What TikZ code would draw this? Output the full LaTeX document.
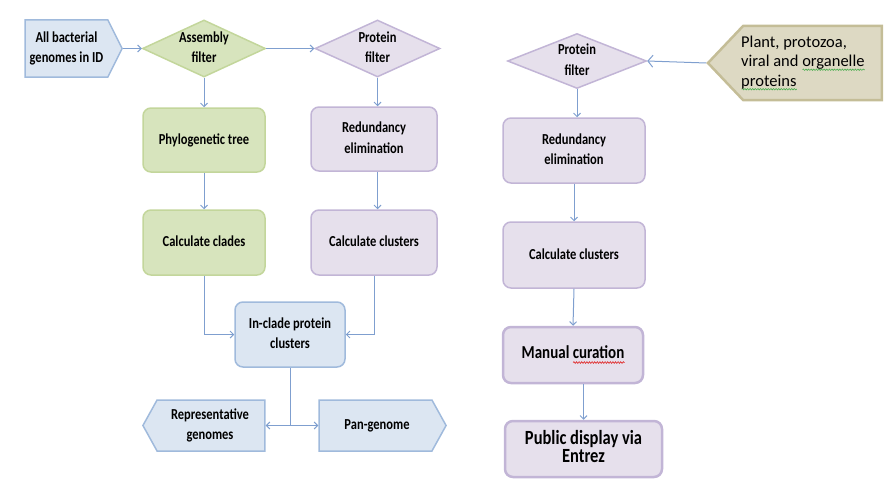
\documentclass[tikz,border=0pt]{standalone}
\usepackage{fontspec}
\usepackage{graphicx}
\setmainfont{Carlito}
\usetikzlibrary{shapes.geometric,shapes.symbols,arrows.meta,decorations.pathmorphing}
\definecolor{bfill}{HTML}{DCE6F2}
\definecolor{bdraw}{HTML}{A0BADC}
\definecolor{gfill}{HTML}{D7E4BD}
\definecolor{gdraw}{HTML}{C3D69B}
\definecolor{pfill}{HTML}{E6E0EC}
\definecolor{pdraw}{HTML}{C2B5D6}
\definecolor{tfill}{HTML}{DDD9C3}
\definecolor{tdraw}{HTML}{C4BD97}
\definecolor{arr}{HTML}{7F9FCF}
\definecolor{wgreen}{HTML}{4CB050}
\definecolor{wred}{HTML}{E03030}
\newsavebox\wavbox
\newcommand\wav[2]{\sbox\wavbox{#2}\rlap{\tikz[baseline=0pt,x=1pt,y=1pt]\draw[draw=#1,fill=none,sharp corners,line width=0.6pt,decorate,decoration={snake,amplitude=0.7pt,segment length=2.6pt}] (0,-3) -- (\the\wd\wavbox,-3);}\usebox\wavbox}
\newcommand\stt[1]{\scalebox{1}[1.22]{\begin{tabular}{@{}c@{}}#1\end{tabular}}}
\tikzset{
  base/.style={line width=1.5pt, align=center, inner sep=1pt,
    font=\fontsize{12.5}{16.4}\selectfont\bfseries},
  rbox/.style={base, rectangle, rounded corners=8pt},
  dia/.style={base, diamond, inner sep=0pt},
  txt/.style={inner sep=0pt, font=\fontsize{12.5}{16.4}\selectfont\bfseries},
  sig/.style={base, signal, signal from=nowhere},
  blue/.style={fill=bfill, draw=bdraw},
  green/.style={fill=gfill, draw=gdraw},
  purple/.style={fill=pfill, draw=pdraw},
  tan/.style={fill=tfill, draw=tdraw},
  conn/.style={draw=arr, line width=1pt, -{Straight Barb[length=3.5pt,width=7pt]}},
  plainconn/.style={draw=arr, line width=1pt},
}
\begin{document}
\begin{tikzpicture}[x=1pt,y=-1pt]
\useasboundingbox (0,0) rectangle (890,487);
% left part
\node[sig, blue, signal to=east, signal pointer angle=127, minimum width=97, minimum height=57] (allb) at (66.5,48.5) {};
\node[txt] (allbT) at (66.5,48.5) {\stt{All bacterial\\genomes in ID}};
\node[dia, green, minimum width=123, minimum height=57] (asm) at (204,48.5) {};
\node[txt] (asmT) at (204,48.5) {\stt{Assembly\\filter}};
\node[dia, purple, minimum width=125, minimum height=57] (pf1) at (377.5,48.5) {};
\node[txt] (pf1T) at (377.5,48.5) {\stt{Protein\\filter}};
\node[rbox, green, minimum width=122, minimum height=64] (phylo) at (204,140) {\stt{Phylogenetic tree}};
\node[rbox, green, minimum width=122, minimum height=65] (clades) at (204,242.5) {\stt{Calculate clades}};
\node[rbox, purple, minimum width=126, minimum height=64] (red1) at (374,139) {\stt{Redundancy\\elimination}};
\node[rbox, purple, minimum width=126, minimum height=65] (clus1) at (374,242.5) {\stt{Calculate clusters}};
\node[rbox, blue, minimum width=110, minimum height=65] (inclade) at (290,334.5) {\stt{In-clade protein\\clusters}};
\node[sig, blue, signal to=west, signal pointer angle=122, minimum width=122, minimum height=51] (rep) at (211,425.5) {};
\node[txt] (repT) at (210,425.5) {\stt{Representative\\genomes}};
\node[sig, blue, signal to=east, signal pointer angle=122, minimum width=127, minimum height=51] (pan) at (375.5,425.5) {};
\node[txt] (panT) at (377,425.5) {\stt{Pan-genome}};
\coordinate (split) at (290,425.5);
% right part
\node[dia, purple, minimum width=139, minimum height=55] (pf2) at (577,61) {};
\node[txt] (pf2T) at (577,61) {\stt{Protein\\filter}};
\node[sig, tan, line width=2.5pt, signal to=west, signal pointer angle=93, minimum width=174, minimum height=74] (plant) at (812.5,63) {};
\node[inner sep=0pt, align=left, anchor=west, font=\fontsize{16.5}{19.5}\selectfont] (plantT) at (741,63) {Plant, protozoa,\\viral and \wav{wgreen}{organelle}\\\wav{wgreen}{proteins}};
\node[rbox, purple, minimum width=142, minimum height=65] (red2) at (574,150.5) {\stt{Redundancy\\elimination}};
\node[rbox, purple, minimum width=142, minimum height=66] (clus2) at (574,255) {\stt{Calculate clusters}};
\node[rbox, purple, line width=2.5pt, minimum width=140, minimum height=56] (man) at (573,355) {};
\node[txt, font=\fontsize{15}{14}\selectfont\bfseries] (manT) at (573,355) {\stt{Manual \wav{wred}{curation}}};
\node[rbox, purple, line width=2.5pt, minimum width=157, minimum height=56, font=\fontsize{16.5}{14}\selectfont\bfseries] (pub) at (583.5,449) {\stt{Public display via\\Entrez}};
% connectors
\draw[conn] (allb.east) -- (asm.west);
\draw[conn] (asm.east) -- (pf1.west);
\draw[conn] (asm.south) -- (phylo.north);
\draw[conn] (phylo) -- (clades);
\draw[conn] (pf1.south) -- (pf1.south |- red1.north);
\draw[conn] (red1.south -| pf1.south) -- (pf1.south |- clus1.north);
\draw[conn] (clades.south) |- (inclade.west);
\draw[conn] (clus1.south) |- (inclade.east);
\draw[plainconn] (inclade.south) -- (split);
\draw[conn] (split) -- (rep.east);
\draw[conn] (split) -- (pan.west);
\draw[draw=arr, line width=1pt, -{Straight Barb[length=5pt,width=12pt]}] (plant.west) -- (pf2.east);
\draw[conn] (pf2.south) -- (pf2.south |- red2.north);
\draw[conn] (red2.south) -- (clus2.north);
\draw[conn] (clus2.south) -- (man.north);
\draw[conn] (pub.north |- man.south) -- (pub.north);
\end{tikzpicture}
\end{document}
